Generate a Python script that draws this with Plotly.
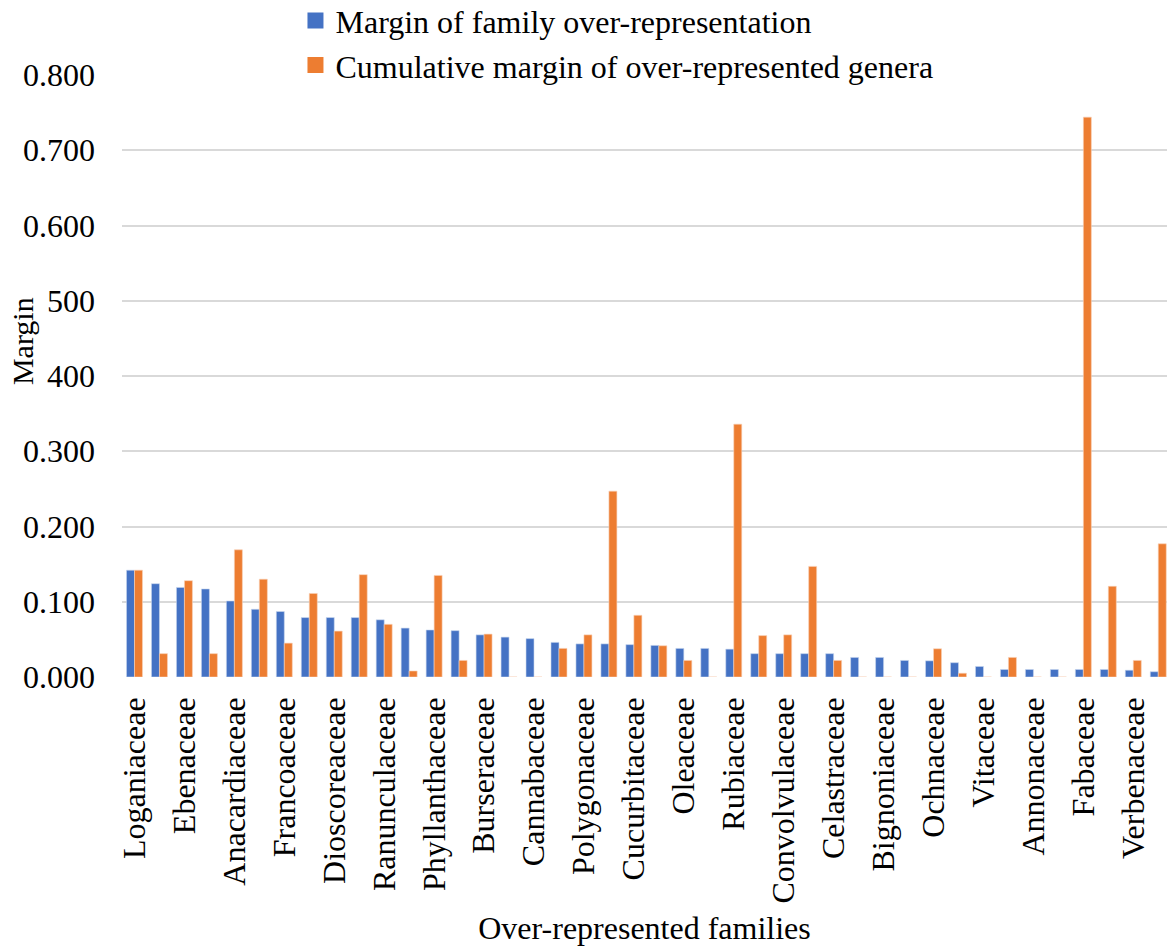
import plotly.graph_objects as go

families = ["Loganiaceae", "", "Ebenaceae", "", "Anacardiaceae", "", "Francoaceae", "",
            "Dioscoreaceae", "", "Ranunculaceae", "", "Phyllanthaceae", "", "Burseraceae", "",
            "Cannabaceae", "", "Polygonaceae", "", "Cucurbitaceae", "", "Oleaceae", "",
            "Rubiaceae", "", "Convolvulaceae", "", "Celastraceae", "", "Bignoniaceae", "",
            "Ochnaceae", "", "Vitaceae", "", "Annonaceae", "", "Fabaceae", "", "Verbenaceae", ""]

family_margin = [0.142, 0.124, 0.119, 0.117, 0.101, 0.090, 0.087, 0.079, 0.079, 0.079,
                 0.076, 0.065, 0.0625, 0.0616, 0.056, 0.053, 0.051, 0.046, 0.044, 0.044,
                 0.043, 0.042, 0.038, 0.038, 0.037, 0.031, 0.031, 0.031, 0.031, 0.026,
                 0.026, 0.022, 0.0215, 0.019, 0.014, 0.010, 0.010, 0.010, 0.010, 0.010,
                 0.009, 0.007]

genera_margin = [0.142, 0.031, 0.128, 0.031, 0.169, 0.130, 0.045, 0.111, 0.061, 0.136,
                 0.070, 0.008, 0.135, 0.022, 0.057, 0, 0, 0.038, 0.056, 0.247,
                 0.082, 0.0415, 0.022, 0, 0.336, 0.055, 0.056, 0.147, 0.022, 0,
                 0, 0, 0.0375, 0.005, 0, 0.026, 0, 0, 0.744, 0.1205,
                 0.022, 0.177]

series_names = ["Margin of family over-representation",
                "Cumulative margin of over-represented genera"]
series_colors = ["#4472C4", "#ED7D31"]

y_tickvals = [0.0, 0.1, 0.2, 0.3, 0.4, 0.5, 0.6, 0.7, 0.8]
y_ticktext = ["0.000", "0.100", "0.200", "0.300", "400", "500", "0.600", "0.700", "0.800"]

x_idx = list(range(len(families)))
label_idx = [i for i, f in enumerate(families) if f]
label_txt = [families[i] for i in label_idx]

font = "Liberation Serif, Times New Roman, serif"

fig = go.Figure()
for vals, name, col, edge, grp in [(family_margin, series_names[0], series_colors[0], "#c9d6ef", "a"),
                                   (genera_margin, series_names[1], series_colors[1], "#f8d2b8", "b")]:
    fig.add_trace(go.Bar(x=x_idx, y=vals, name=name, legendgroup=grp, showlegend=False,
                         marker=dict(color=col, line=dict(color=edge, width=0.6))))
    # legend-only marker with a larger square swatch
    fig.add_trace(go.Scatter(x=[None], y=[None], mode="markers", name=name, legendgroup=grp,
                             marker=dict(symbol="square", size=17, color=col)))

fig.update_layout(
    width=1167, height=946,
    margin=dict(l=122, r=0, t=75, b=269, autoexpand=False),
    paper_bgcolor="white", plot_bgcolor="white",
    barmode="group", bargap=0.36, bargroupgap=0.0,
    font=dict(family=font, size=32, color="black"),
    legend=dict(x=0.166, xanchor="left", y=1.136, yanchor="top", orientation="v",
                font=dict(family=font, size=32, color="black"), bgcolor="rgba(0,0,0,0)",
                itemwidth=30, traceorder="grouped", tracegroupgap=0),
    showlegend=True,
    annotations=[dict(text="Margin", xref="paper", yref="paper", x=-0.0957, y=0.558,
                      xanchor="center", yanchor="middle", textangle=-90, showarrow=False,
                      font=dict(family=font, size=30, color="black"))],
)
fig.update_xaxes(range=[-0.5, 41.35], tickmode="array", tickvals=label_idx, ticktext=label_txt,
                 tickangle=-90, tickfont=dict(family=font, size=32), showgrid=False, zeroline=False,
                 showline=False, ticks="", automargin=False, ticklabelstandoff=13,
                 title=dict(text="Over-represented families", font=dict(family=font, size=32),
                            standoff=16))
fig.update_yaxes(range=[0, 0.8], tickmode="array", tickvals=y_tickvals, ticktext=y_ticktext,
                 tickfont=dict(family=font, size=32), showgrid=True, gridcolor="#d9d9d9",
                 gridwidth=2, zeroline=False, showline=False, ticks="", automargin=False,
                 ticklabelstandoff=26)

fig.write_html("out.html", config={"displayModeBar": False},
               post_script="document.body.style.margin='0';document.body.style.overflow='hidden';")
